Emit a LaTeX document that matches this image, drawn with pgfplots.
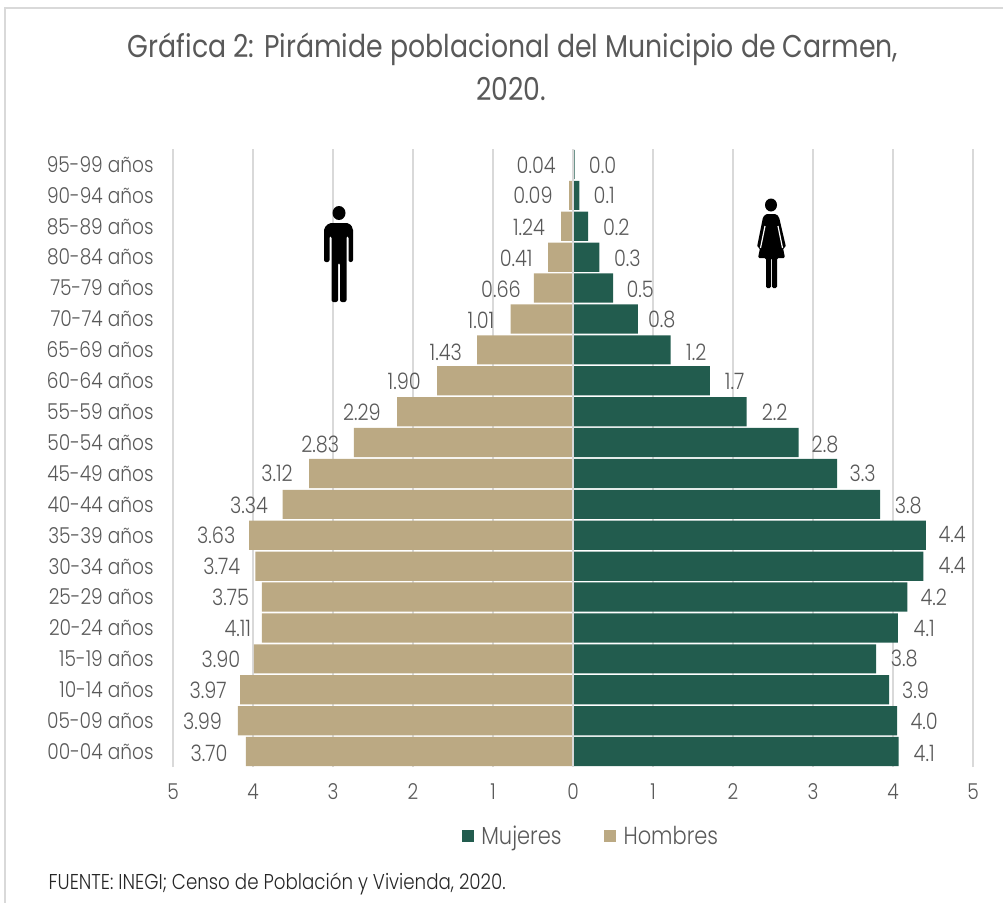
\documentclass[border=0pt]{standalone}
\usepackage{pgfplots}
\usepackage{pgfplotstable}
\usepackage{fontspec}
\pgfplotsset{compat=1.18}
\setmainfont{Poppins}[UprightFont=* Light,FakeStretch=0.85]
\newfontfamily\titlefont{Poppins}[FakeStretch=0.85]
\definecolor{grn}{HTML}{225C4E}
\definecolor{tan}{HTML}{BBA983}
\definecolor{txt}{HTML}{595959}
\definecolor{gridc}{HTML}{D9D9D9}
\pgfplotstableread{
y m h
0 4.07 -4.09
1 4.05 -4.19
2 3.95 -4.16
3 3.79 -3.99
4 4.06 -3.89
5 4.18 -3.89
6 4.38 -3.97
7 4.41 -4.05
8 3.84 -3.63
9 3.30 -3.30
10 2.82 -2.74
11 2.17 -2.20
12 1.71 -1.70
13 1.22 -1.20
14 0.81 -0.78
15 0.50 -0.49
16 0.33 -0.31
17 0.19 -0.15
18 0.08 -0.05
19 0.02 -0.01
}\pyramid
\pgfplotstableread{
x y label
-4.55 -0.05 3.70
-4.63 0.99 3.99
-4.56 1.99 3.97
-4.40 3.00 3.90
-4.19 4.00 4.11
-4.28 5.00 3.75
-4.39 6.01 3.74
-4.46 7.01 3.63
-4.05 7.98 3.34
-3.70 9.01 3.12
-3.16 9.95 2.83
-2.64 10.99 2.29
-2.11 11.99 1.90
-1.59 12.93 1.43
-1.15 13.97 1.01
-0.90 14.97 0.66
-0.71 15.97 0.41
-0.55 16.98 1.24
-0.50 18.01 0.09
-0.46 18.98 0.04
}\lblh
\pgfplotstableread{
x y label
4.39 -0.05 4.1
4.39 0.99 4.0
4.28 1.99 3.9
4.14 3.00 3.8
4.39 4.00 4.1
4.51 5.00 4.2
4.74 6.01 4.4
4.74 7.01 4.4
4.19 7.98 3.8
3.62 9.01 3.3
3.15 9.95 2.8
2.52 10.99 2.2
2.02 11.99 1.7
1.54 12.93 1.2
1.11 13.97 0.8
0.84 14.97 0.5
0.68 15.97 0.3
0.54 16.98 0.2
0.39 18.01 0.1
0.37 18.98 0.0
}\lblm
\begin{document}
\begin{tikzpicture}
\path[use as bounding box] (0pt,0pt) rectangle (752.25pt,-677.25pt);
\begin{axis}[
  at={(129.75pt,-575.25pt)},anchor=south west,
  scale only axis,width=600pt,height=463.5pt,
  xmin=-5,xmax=5,ymin=-0.5,ymax=19.5,
  axis line style={draw=none},
  major tick style={draw=none},
  xtick={-5,-4,-3,-2,-1,0,1,2,3,4,5},
  xticklabels={5,4,3,2,1,0,1,2,3,4,5},
  ytick={0,...,19},
  yticklabels={00-04 años,05-09 años,10-14 años,15-19 años,20-24 años,25-29 años,30-34 años,35-39 años,40-44 años,45-49 años,50-54 años,55-59 años,60-64 años,65-69 años,70-74 años,75-79 años,80-84 años,85-89 años,90-94 años,95-99 años},
  /pgf/number format/assume math mode=true,
  tick label style={text=txt,font=\fontsize{16.4}{19}\selectfont},
  xticklabel style={yshift=-9pt},
  yticklabel style={xshift=-11pt},
  xmajorgrids,
  grid style={gridc,line width=1.5pt},
  legend style={at={(0.523,-0.112)},anchor=center,draw=none,fill=none,legend columns=2,
    font=\fontsize{18.5}{22}\selectfont,text=txt,
    /tikz/every even column/.append style={column sep=30pt},
    /tikz/every odd column/.append style={column sep=3.5pt}},
  legend cell align=left,
  legend image code/.code={\fill[#1] (0pt,-4.5pt) rectangle (9pt,4.5pt);},
]
\addplot[xbar,bar shift=0pt,bar width=21.9pt,fill=grn,draw=none] table[x=m,y=y]{\pyramid};
\addlegendentry{Mujeres}
\addplot[xbar,bar shift=0pt,bar width=21.9pt,fill=tan,draw=none] table[x=h,y=y]{\pyramid};
\addlegendentry{Hombres}
\draw[gridc,line width=1.2pt] (axis cs:0,-0.5) -- (axis cs:0,19.5);
\addplot[forget plot,draw=none,mark=none,nodes near coords,point meta=explicit symbolic,
  every node near coord/.append style={anchor=center,inner sep=0pt,text=txt,font=\fontsize{17}{20}\selectfont}]
  table[x=x,y=y,meta=label]{\lblh};
\addplot[forget plot,draw=none,mark=none,nodes near coords,point meta=explicit symbolic,
  every node near coord/.append style={anchor=center,inner sep=0pt,text=txt,font=\fontsize{17}{20}\selectfont}]
  table[x=x,y=y,meta=label]{\lblm};
\end{axis}
\begin{scope}[x=0.75pt,y=-0.75pt]
\draw[gridc,line width=1.6pt] (5,903) -- (5,8) -- (1003,8);
\node[txt,font=\titlefont\fontsize{23.6}{30}\selectfont,anchor=center] at (513,49) {Gráfica 2: Pirámide poblacional del Municipio de Carmen,};
\node[txt,font=\titlefont\fontsize{23.6}{30}\selectfont,anchor=center] at (511,89) {2020.};
% man icon
\fill[black] (339,213) ellipse (6.5 and 7);
\fill[black,rounded corners=1.5pt] (324,262) -- (324,228) -- (329,223) -- (349,223) -- (353,228) -- (353,262) -- (348.5,262) -- (348.5,236) -- (346.5,236) -- (346.5,302) -- (340,302) -- (340,263) -- (338,263) -- (338,302) -- (331.5,302) -- (331.5,236) -- (329.5,236) -- (329.5,262) -- cycle;
% woman icon
\fill[black] (771,205) ellipse (6 and 6.5);
\fill[black,rounded corners=1pt] (757,247) -- (763,217) -- (766,214) -- (776,214) -- (779,217) -- (786,247) -- (783,248) -- (785,258) -- (777,258) -- (777,288) -- (772,288) -- (772,258) -- (771,258) -- (771,288) -- (766,288) -- (766,258) -- (758,258) -- (760,248) -- cycle;
\draw[white,line width=0.9pt] (765,226) -- (760.5,248);
\draw[white,line width=0.9pt] (778,226) -- (782.5,248);
\node[anchor=west,text=black!85,font=\fontsize{16.1}{18}\selectfont] at (44,884) {FUENTE: INEGI; Censo de Población y Vivienda, 2020.};
\end{scope}
\end{tikzpicture}
\end{document}
